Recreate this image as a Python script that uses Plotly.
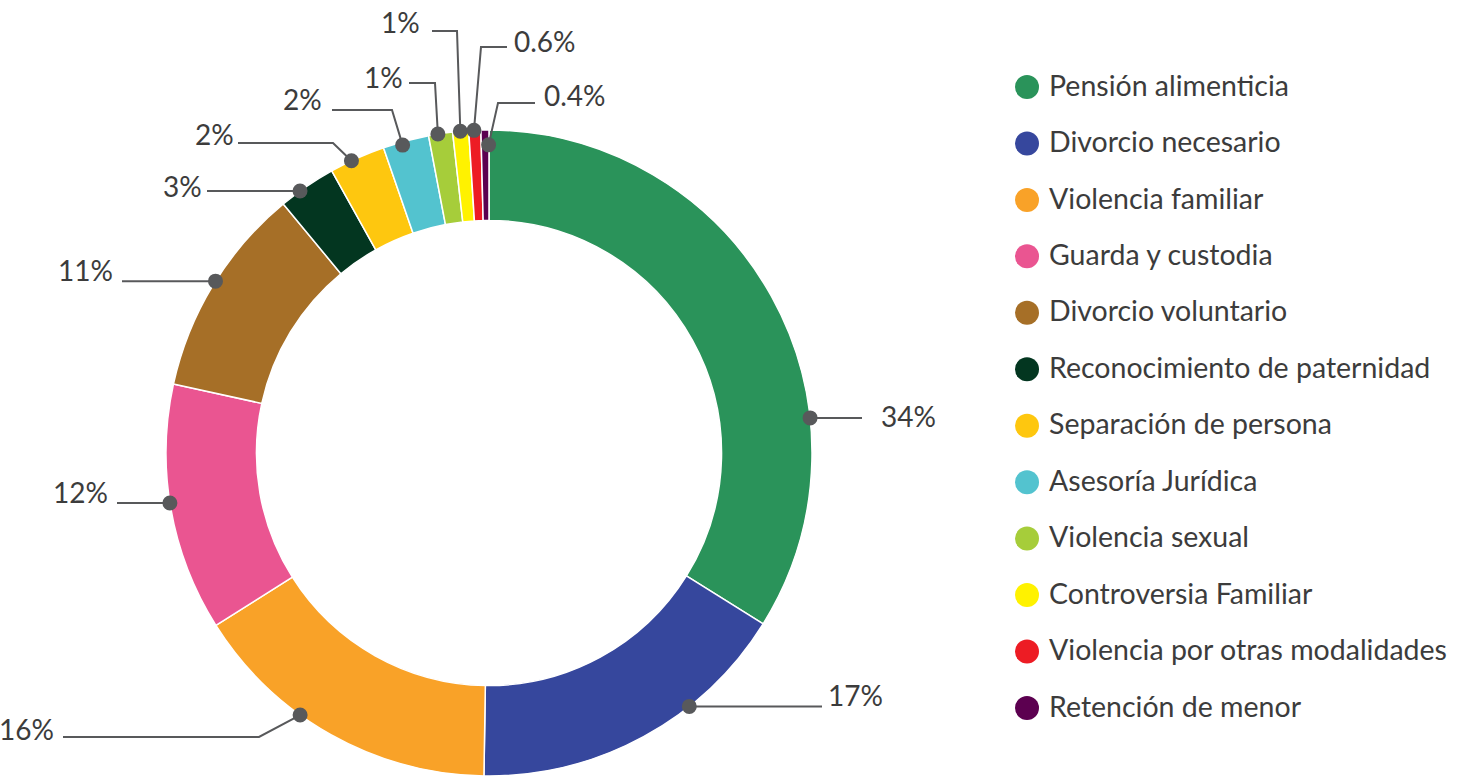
import numpy as np
import plotly.graph_objects as go

# data
categories = [
    "Pensión alimenticia", "Divorcio necesario", "Violencia familiar",
    "Guarda y custodia", "Divorcio voluntario", "Reconocimiento de paternidad",
    "Separación de persona", "Asesoría Jurídica", "Violencia sexual",
    "Controversia Familiar", "Violencia por otras modalidades", "Retención de menor",
]
values = [33.9, 16.4, 15.8, 12.4, 10.6, 2.9, 2.8, 2.3, 1.2, 0.8, 0.6, 0.4]
pct_labels = ["34%", "17%", "16%", "12%", "11%", "3%", "2%", "2%", "1%", "1%", "0.6%", "0.4%"]
colors = [
    "#2a935a", "#36479d", "#f9a228", "#ea5591", "#a66f27", "#033620",
    "#fec70f", "#53c3cf", "#a6cd3a", "#fff200", "#ed1c24", "#5c0050",
]

# canvas in pixels, axes map one unit to one screen pixel
W, H = 1465, 777
cx, cy, R = 489, 453, 323
HOLE = 0.72
FONT = "Lato"
TXT = "#3c3c3c"
LINE = "#58595b"

# leader layout: dot position inside the slice (fraction, radius factor),
# optional elbow, x where the line ends, text anchor (x, y) and its side
leaders = [
    dict(frac=0.687, rf=1.0, elbow=None, end=862, tx=879, ty=416, side="r"),
    dict(frac=0.335, rf=1.0, elbow=None, end=822, tx=826, ty=695, side="r"),
    dict(frac=0.614, rf=1.0, elbow=(259, 737), end=63, tx=56, ty=729, side="l"),
    dict(frac=0.524, rf=1.0, elbow=None, end=117, tx=110, ty=492, side="l"),
    dict(frac=0.52, rf=1.0, elbow=None, end=122, tx=115, ty=270, side="l"),
    dict(frac=0.36, rf=1.0, elbow=None, end=207, tx=204, ty=186, side="l"),
    dict(frac=0.39, rf=1.0, elbow=(333, 143), end=238, tx=236, ty=134, side="l"),
    dict(frac=0.41, rf=0.99, elbow=(392, 110), end=332, tx=324, ty=99, side="l"),
    dict(frac=0.39, rf=1.0, elbow=(435, 83), end=409, tx=405, ty=77, side="l"),
    dict(frac=0.48, rf=1.0, elbow=(457, 31), end=432, tx=422, ty=22, side="l"),
    dict(frac=0.43, rf=1.0, elbow=(481, 47), end=507, tx=512, ty=41, side="r"),
    dict(frac=0.95, rf=0.954, elbow=(498, 103), end=535, tx=542, ty=95, side="r"),
]

fig = go.Figure()

fig.add_trace(go.Pie(
    values=values, labels=categories, sort=False, direction="clockwise",
    rotation=0, hole=HOLE, textinfo="none", hoverinfo="label+percent",
    marker=dict(colors=colors, line=dict(color="white", width=1.5)),
    domain=dict(x=[(cx - R) / W, (cx + R) / W], y=[(H - cy - R) / H, (H - cy + R) / H]),
    showlegend=False,
))

shapes = []
annotations = []
total = sum(values)
start = 0.0
for v, lab, ld in zip(values, pct_labels, leaders):
    ang = 2 * np.pi * (start + v * ld["frac"]) / total
    start += v
    r = R * ld["rf"]
    dx, dy = cx + r * np.sin(ang), cy - r * np.cos(ang)
    if ld["elbow"] is None:
        ex, ey = dx, dy
    else:
        ex, ey = ld["elbow"]
    shapes.append(dict(type="path", xref="x", yref="y", layer="above",
                       path=f"M{dx},{dy} L{ex},{ey} L{ld['end']},{ey}",
                       line=dict(color=LINE, width=2)))
    shapes.append(dict(type="circle", xref="x", yref="y", layer="above",
                       x0=dx - 7.5, x1=dx + 7.5, y0=dy - 7.5, y1=dy + 7.5,
                       fillcolor=LINE, line=dict(width=0)))
    annotations.append(dict(
        x=ld["tx"], y=ld["ty"], xref="x", yref="y", text=lab,
        xanchor="left" if ld["side"] == "r" else "right", yanchor="middle",
        showarrow=False, font=dict(family=FONT, size=28, color=TXT)))

# hand-drawn legend
leg_x, leg_y0, leg_dy = 1027, 87, 56.45
leg_y = [leg_y0 + i * leg_dy for i in range(len(categories))]
fig.add_trace(go.Scatter(
    x=[leg_x] * len(categories), y=leg_y, mode="markers",
    marker=dict(size=24, color=colors), hoverinfo="skip", showlegend=False,
))
fig.add_trace(go.Scatter(
    x=[leg_x + 22] * len(categories), y=[y + 1.5 for y in leg_y], mode="text",
    text=categories, textposition="middle right",
    textfont=dict(family=FONT, size=28.5, color=TXT),
    hoverinfo="skip", showlegend=False,
))

fig.update_layout(
    width=W, height=H, margin=dict(l=0, r=0, t=0, b=0),
    paper_bgcolor="white", plot_bgcolor="white",
    xaxis=dict(range=[0, W], visible=False, fixedrange=True),
    yaxis=dict(range=[H, 0], visible=False, fixedrange=True),
    shapes=shapes, annotations=annotations, showlegend=False,
)

# drop the browser's default 8px body margin so the figure sits at (0, 0)
fig.write_html("out.html", config={"displayModeBar": False},
               post_script="document.body.style.margin='0';")
